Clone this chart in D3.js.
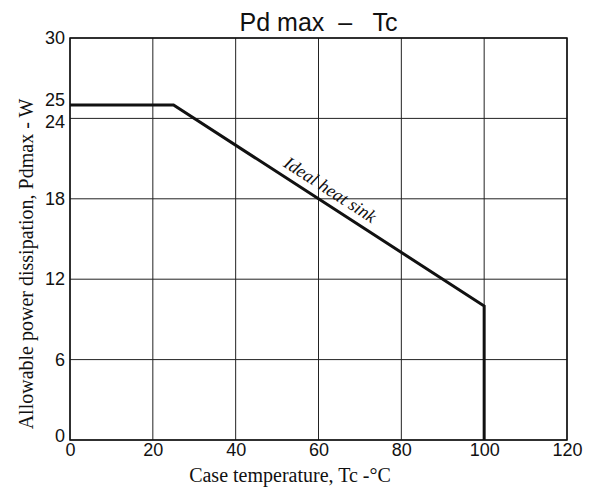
<!DOCTYPE html>
<html>
<head>
<meta charset="utf-8">
<script src="https://cdn.jsdelivr.net/npm/d3@7"></script>
<style>
  body { margin: 0; background: #fff; }
  svg { display: block; }
</style>
</head>
<body>
<div id="chart"></div>
<script>
// case temperature (°C) vs allowable power dissipation (W)
const tempC = [0, 25, 100, 100]
const pdMax = [25, 25, 10, 0]
const xTicks = [0, 20, 40, 60, 80, 100, 120]
const yTicks = [0, 6, 12, 18, 24, 25, 30]
const yGrid = [0, 6, 12, 18, 24, 30]

const width = 597, height = 493
const margin = { top: 38, right: 30, bottom: 53, left: 70 }

const svg = d3.select("#chart").append("svg")
  .attr("width", width)
  .attr("height", height)

const x = d3.scaleLinear().domain([0, 120]).range([margin.left, width - margin.right])
const y = d3.scaleLinear().domain([0, 30]).range([height - margin.bottom, margin.top])

const sans = "'Liberation Sans', Arial, sans-serif"
const serif = "'Liberation Serif', 'Times New Roman', serif"

// grid
svg.append("g")
  .selectAll("line")
  .data(xTicks)
  .join("line")
  .attr("x1", d => x(d)).attr("x2", d => x(d))
  .attr("y1", y(0)).attr("y2", y(30))
  .attr("stroke", "#222").attr("stroke-width", 1)

svg.append("g")
  .selectAll("line")
  .data(yGrid)
  .join("line")
  .attr("x1", x(0)).attr("x2", x(120))
  .attr("y1", d => y(d)).attr("y2", d => y(d))
  .attr("stroke", "#222").attr("stroke-width", 1)

// frame
svg.append("rect")
  .attr("x", x(0)).attr("y", y(30))
  .attr("width", x(120) - x(0)).attr("height", y(0) - y(30))
  .attr("fill", "none").attr("stroke", "#111").attr("stroke-width", 1.5)

// axes (labels only, the grid does the lines)
const xAxis = svg.append("g")
  .attr("transform", "translate(0," + y(0) + ")")
  .call(d3.axisBottom(x).tickValues(xTicks).tickSize(0).tickPadding(3))
xAxis.select(".domain").remove()
xAxis.selectAll("text")
  .style("font-family", sans).style("font-size", "18px").attr("fill", "#111")

const yAxis = svg.append("g")
  .attr("transform", "translate(" + x(0) + ",0)")
  .call(d3.axisLeft(y).tickValues(yTicks).tickSize(0).tickPadding(5))
yAxis.select(".domain").remove()
yAxis.selectAll("text")
  .style("font-family", sans).style("font-size", "18px").attr("fill", "#111")
// nudge 25 / 24 apart a bit like the print
yAxis.selectAll(".tick text").attr("dy", d => d === 25 ? "0.05em" : d === 24 ? "0.5em" : d === 0 ? "0.1em" : "0.32em")

// derating line
const pts = tempC.map((t, i) => [t, pdMax[i]])
svg.append("path")
  .datum(pts)
  .attr("d", d3.line().x(d => x(d[0])).y(d => y(d[1])))
  .attr("fill", "none")
  .attr("stroke", "#111")
  .attr("stroke-width", 3)
  .attr("stroke-linejoin", "miter")

// label along the sloped part
const p0 = [x(tempC[1]), y(pdMax[1])], p1 = [x(tempC[2]), y(pdMax[2])]
const ang = Math.atan2(p1[1] - p0[1], p1[0] - p0[0]) * 180 / Math.PI
const lt = 61
const lx = x(lt), ly = y(25 - (lt - 25) * 0.2)
svg.append("text")
  .attr("transform", "translate(" + lx + "," + ly + ") rotate(" + ang + ")")
  .attr("y", -8)
  .attr("text-anchor", "middle")
  .style("font-family", serif).style("font-style", "italic").style("font-size", "18px")
  .attr("fill", "#111")
  .text("Ideal heat sink")

// titles
svg.append("text")
  .attr("x", (x(0) + x(120)) / 2).attr("y", 31)
  .attr("text-anchor", "middle")
  .style("font-family", sans).style("font-size", "25px")
  .style("white-space", "pre")
  .attr("fill", "#111")
  .text("Pd max  –   Tc")

svg.append("text")
  .attr("x", 290).attr("y", 482)
  .attr("text-anchor", "middle")
  .style("font-family", serif).style("font-size", "20px")
  .attr("fill", "#111")
  .text("Case temperature, Tc -°C")

svg.append("text")
  .attr("transform", "translate(33," + 264 + ") rotate(-90)")
  .attr("text-anchor", "middle")
  .style("font-family", serif).style("font-size", "20px")
  .attr("fill", "#111")
  .text("Allowable power dissipation, Pdmax - W")
</script>
</body>
</html>
